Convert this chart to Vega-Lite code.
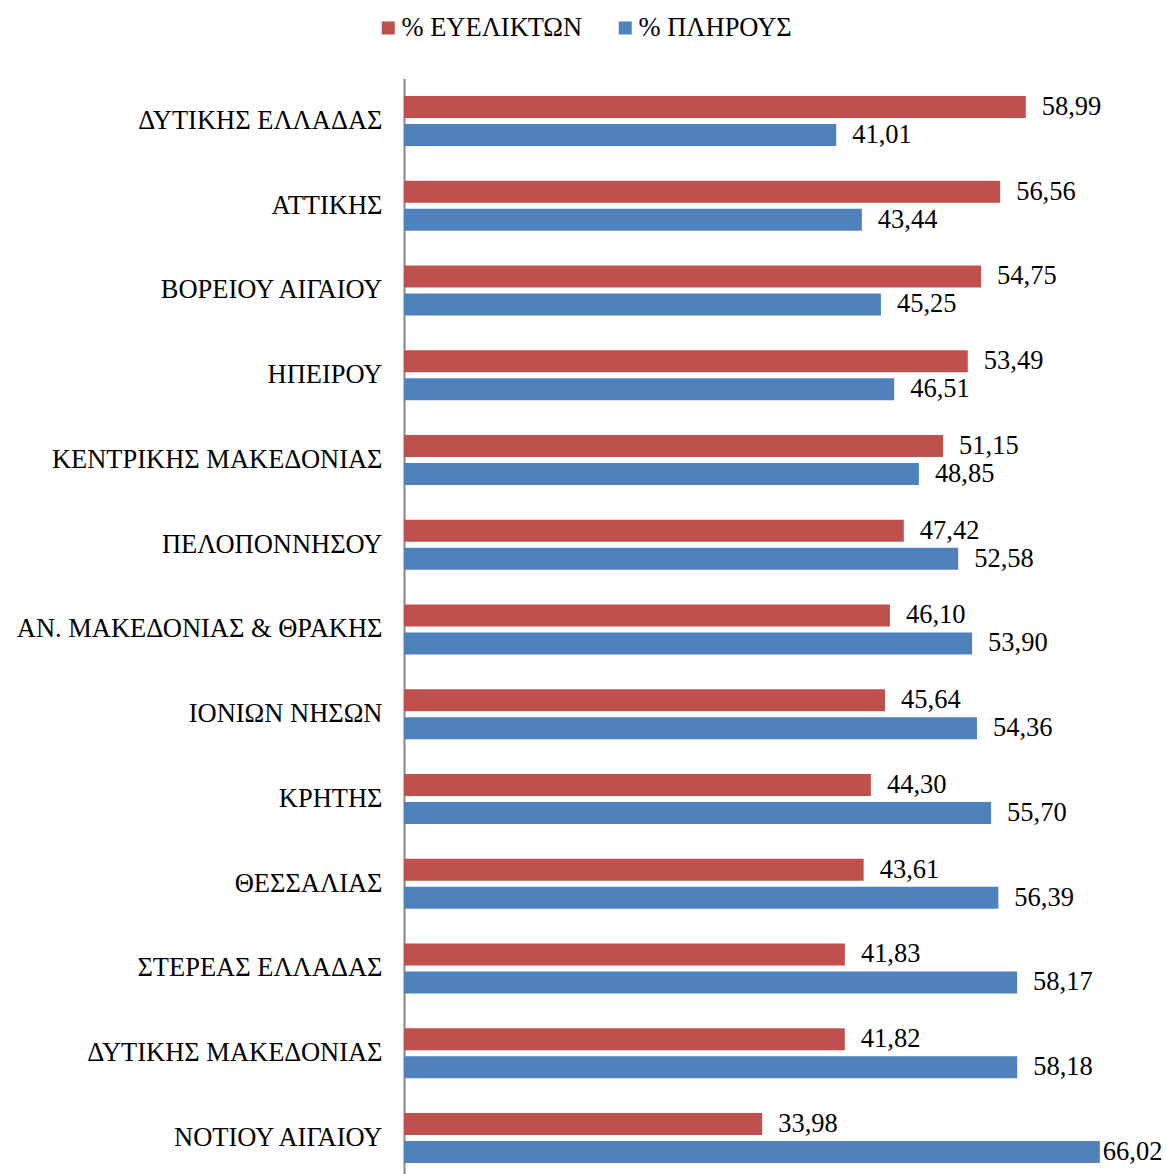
{
  "$schema": "https://vega.github.io/schema/vega-lite/v6.json",
  "autosize": {"type": "none"},
  "padding": {"left": 404, "top": 78.6, "right": 24.2, "bottom": 0},
  "width": 737.8,
  "height": 1101.75,
  "background": "white",
  "data": {
    "values": [
      {"region": "ΔΥΤΙΚΗΣ ΕΛΛΑΔΑΣ", "series": "% ΕΥΕΛΙΚΤΩΝ", "value": 58.99},
      {"region": "ΔΥΤΙΚΗΣ ΕΛΛΑΔΑΣ", "series": "% ΠΛΗΡΟΥΣ", "value": 41.01},
      {"region": "ΑΤΤΙΚΗΣ", "series": "% ΕΥΕΛΙΚΤΩΝ", "value": 56.56},
      {"region": "ΑΤΤΙΚΗΣ", "series": "% ΠΛΗΡΟΥΣ", "value": 43.44},
      {"region": "ΒΟΡΕΙΟΥ ΑΙΓΑΙΟΥ", "series": "% ΕΥΕΛΙΚΤΩΝ", "value": 54.75},
      {"region": "ΒΟΡΕΙΟΥ ΑΙΓΑΙΟΥ", "series": "% ΠΛΗΡΟΥΣ", "value": 45.25},
      {"region": "ΗΠΕΙΡΟΥ", "series": "% ΕΥΕΛΙΚΤΩΝ", "value": 53.49},
      {"region": "ΗΠΕΙΡΟΥ", "series": "% ΠΛΗΡΟΥΣ", "value": 46.51},
      {"region": "ΚΕΝΤΡΙΚΗΣ ΜΑΚΕΔΟΝΙΑΣ", "series": "% ΕΥΕΛΙΚΤΩΝ", "value": 51.15},
      {"region": "ΚΕΝΤΡΙΚΗΣ ΜΑΚΕΔΟΝΙΑΣ", "series": "% ΠΛΗΡΟΥΣ", "value": 48.85},
      {"region": "ΠΕΛΟΠΟΝΝΗΣΟΥ", "series": "% ΕΥΕΛΙΚΤΩΝ", "value": 47.42},
      {"region": "ΠΕΛΟΠΟΝΝΗΣΟΥ", "series": "% ΠΛΗΡΟΥΣ", "value": 52.58},
      {"region": "ΑΝ. ΜΑΚΕΔΟΝΙΑΣ & ΘΡΑΚΗΣ", "series": "% ΕΥΕΛΙΚΤΩΝ", "value": 46.10},
      {"region": "ΑΝ. ΜΑΚΕΔΟΝΙΑΣ & ΘΡΑΚΗΣ", "series": "% ΠΛΗΡΟΥΣ", "value": 53.90},
      {"region": "ΙΟΝΙΩΝ ΝΗΣΩΝ", "series": "% ΕΥΕΛΙΚΤΩΝ", "value": 45.64},
      {"region": "ΙΟΝΙΩΝ ΝΗΣΩΝ", "series": "% ΠΛΗΡΟΥΣ", "value": 54.36},
      {"region": "ΚΡΗΤΗΣ", "series": "% ΕΥΕΛΙΚΤΩΝ", "value": 44.30},
      {"region": "ΚΡΗΤΗΣ", "series": "% ΠΛΗΡΟΥΣ", "value": 55.70},
      {"region": "ΘΕΣΣΑΛΙΑΣ", "series": "% ΕΥΕΛΙΚΤΩΝ", "value": 43.61},
      {"region": "ΘΕΣΣΑΛΙΑΣ", "series": "% ΠΛΗΡΟΥΣ", "value": 56.39},
      {"region": "ΣΤΕΡΕΑΣ ΕΛΛΑΔΑΣ", "series": "% ΕΥΕΛΙΚΤΩΝ", "value": 41.83},
      {"region": "ΣΤΕΡΕΑΣ ΕΛΛΑΔΑΣ", "series": "% ΠΛΗΡΟΥΣ", "value": 58.17},
      {"region": "ΔΥΤΙΚΗΣ ΜΑΚΕΔΟΝΙΑΣ", "series": "% ΕΥΕΛΙΚΤΩΝ", "value": 41.82},
      {"region": "ΔΥΤΙΚΗΣ ΜΑΚΕΔΟΝΙΑΣ", "series": "% ΠΛΗΡΟΥΣ", "value": 58.18},
      {"region": "ΝΟΤΙΟΥ ΑΙΓΑΙΟΥ", "series": "% ΕΥΕΛΙΚΤΩΝ", "value": 33.98},
      {"region": "ΝΟΤΙΟΥ ΑΙΓΑΙΟΥ", "series": "% ΠΛΗΡΟΥΣ", "value": 66.02}
    ]
  },
  "encoding": {
    "y": {
      "field": "region",
      "type": "nominal",
      "sort": null,
      "scale": {"paddingInner": 0.41, "paddingOuter": 0.205},
      "axis": {
        "title": null,
        "ticks": false,
        "labelPadding": 22,
        "labelLimit": 0,
        "labelFont": "Liberation Serif",
        "labelFontSize": 26.5,
        "labelColor": "#000000",
        "domainColor": "#868686",
        "domainWidth": 2
      }
    },
    "yOffset": {
      "field": "series",
      "type": "nominal",
      "scale": {"paddingInner": 0.214, "paddingOuter": 0}
    },
    "x": {
      "field": "value",
      "type": "quantitative",
      "scale": {"domain": [0, 70], "nice": false},
      "axis": null
    }
  },
  "layer": [
    {
      "mark": {"type": "bar"},
      "encoding": {
        "color": {
          "field": "series",
          "type": "nominal",
          "scale": {"domain": ["% ΕΥΕΛΙΚΤΩΝ", "% ΠΛΗΡΟΥΣ"], "range": ["#C0504D", "#4F81BD"]},
          "legend": {
            "title": null,
            "orient": "none",
            "direction": "horizontal",
            "legendX": -29,
            "legendY": -64,
            "symbolType": "square",
            "symbolSize": 169,
            "symbolStrokeWidth": 0,
            "symbolOpacity": 1,
            "labelLimit": 0,
            "labelFont": "Liberation Serif",
            "labelFontSize": 26.5,
            "labelColor": "#000000",
            "labelOffset": 0,
            "columnPadding": 29
          }
        }
      }
    },
    {
      "transform": [{"filter": "datum.value < 65"}],
      "mark": {
        "type": "text",
        "align": "left",
        "baseline": "middle",
        "dx": 16,
        "font": "Liberation Serif",
        "fontSize": 26.5,
        "color": "#000000"
      },
      "encoding": {
        "text": {"field": "value", "type": "quantitative", "format": ".2f"}
      }
    },
    {
      "transform": [{"filter": "datum.value >= 65"}],
      "mark": {
        "type": "text",
        "align": "left",
        "baseline": "middle",
        "dx": 3,
        "font": "Liberation Serif",
        "fontSize": 26.5,
        "color": "#000000"
      },
      "encoding": {
        "text": {"field": "value", "type": "quantitative", "format": ".2f"}
      }
    }
  ],
  "config": {
    "view": {"stroke": null},
    "locale": {
      "number": {"decimal": ",", "thousands": ".", "grouping": [3], "currency": ["", " €"]}
    }
  }
}
